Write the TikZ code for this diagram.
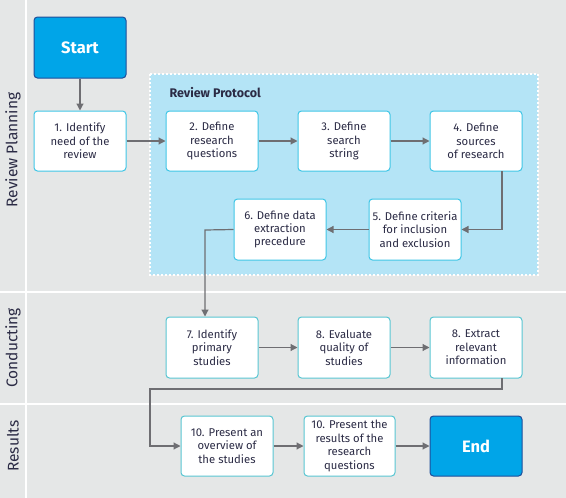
\documentclass[tikz,border=0pt]{standalone}
\usepackage{fontspec}
\setmainfont{Fira Sans}
\usetikzlibrary{arrows.meta,calc}
\definecolor{bgc}{HTML}{E5E7E7}
\definecolor{protc}{HTML}{B4E4F6}
\definecolor{boxb}{HTML}{3FC6E6}
\definecolor{boxb2}{HTML}{58C6D2}
\definecolor{txtc}{HTML}{2B2B45}
\definecolor{arrc}{HTML}{6E6E72}
\definecolor{termf}{HTML}{00A5E8}
\definecolor{termb}{HTML}{1F4E9A}
\tikzset{
  stepbox/.style={draw=boxb, line width=1pt, fill=white, rounded corners=3.5pt,
    minimum width=92pt, minimum height=60pt, inner sep=1pt, align=center,
    text=txtc, font=\fontsize{11.3}{13.4}\selectfont},
  stepboxb/.style={stepbox, draw=boxb2},
  termbox/.style={draw=termb, line width=1pt, fill=termf, rounded corners=3.5pt,
    minimum width=92pt, minimum height=61pt, text=white,
    font=\fontsize{16.5}{18}\selectfont\bfseries},
  conn/.style={draw=arrc, line width=1.2pt, -{Triangle[length=7pt,width=7pt]}},
  lane/.style={rotate=90, text=txtc, font=\fontsize{15.5}{17}\selectfont},
}
\begin{document}
\begin{tikzpicture}[x=1pt,y=-1pt]
\useasboundingbox (0,0) rectangle (566,498);
\fill[bgc] (0,0) rectangle (566,498);
% lane separators
\draw[white, line width=2pt] (26,0) -- (26,498);
\draw[white, line width=2pt] (0,292) -- (566,292);
\draw[white, line width=2pt] (0,404) -- (566,404);
% lane labels
\node[lane] (l1) at (13,150) {Review Planning};
\node[lane] (l2) at (13,348) {Conducting};
\node[lane] (l3) at (13,446) {Results};
% protocol region
\fill[protc] (150,74) rectangle (538,275);
\draw[white, line width=1.5pt, dash pattern=on 2pt off 2pt] (150,74) rectangle (538,275);
\node[anchor=west, text=txtc, font=\fontsize{12.5}{14}\selectfont\bfseries] (rp) at (166,93) {Review Protocol};
% nodes
\node[termbox] (start) at (80,47.5) {Start};
\node[stepbox] (b1) at (80,141) {1. Identify\\need of the\\review};
\node[stepbox] (b2) at (212,141) {2. Define\\research\\questions};
\node[stepbox] (b3) at (344,141) {3. Define\\search\\string};
\node[stepbox] (b4) at (476,141) {4. Define\\sources\\of research};
\node[stepbox, minimum height=61pt] (b5) at (415,229.5) {5. Define criteria\\for inclusion\\and exclusion};
\node[stepbox, minimum height=61pt] (b6) at (280,229.5) {6. Define data\\extraction\\precedure};
\node[stepboxb, minimum height=61pt] (b7) at (212,347.5) {7. Identify\\primary\\studies};
\node[stepboxb, minimum height=61pt] (b8) at (344,347.5) {8. Evaluate\\quality of\\studies};
\node[stepboxb, minimum height=61pt] (b9) at (476,347.5) {8. Extract\\relevant\\information};
\node[stepboxb] (b10) at (227,446) {10. Present an\\overview of\\the studies};
\node[stepboxb, minimum width=91pt] (b11) at (349.5,446) {10. Present the\\results of the\\research\\questions};
\node[termbox, minimum height=60pt] (end) at (476,446) {End};
% helper coordinates
\coordinate (c4) at (502,171);
\coordinate (c6) at (205,230);
\coordinate (c9) at (502,378);
\coordinate (c9a) at (150,389);
% connectors
\draw[conn] (start) -- (b1);
\draw[conn] (b1) -- (b2);
\draw[conn] (b2) -- (b3);
\draw[conn] (b3) -- (b4);
\draw[conn] (c4) |- (b5.east);
\draw[conn] (b5) -- (b6);
\draw[conn] (b6.west) -- (c6) -- (c6 |- b7.north);
\draw[conn] (b7) -- (b8);
\draw[conn] (b8) -- (b9);
\draw[conn] (c9) |- (c9a) |- (b10.west);
\draw[conn] (b10) -- (b11);
\draw[conn] (b11) -- (end);
\end{tikzpicture}
\end{document}
